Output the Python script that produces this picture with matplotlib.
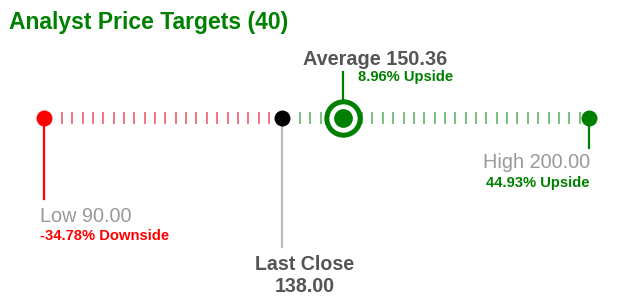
import numpy as np
import matplotlib
matplotlib.use("Agg")
import matplotlib.pyplot as plt

plt.rcParams['font.family'] = ['Liberation Sans', 'DejaVu Sans']

# price targets
n_analysts = 40
low = 90.00
last_close = 138.00
average = 150.36
high = 200.00

low_pct = (low / last_close - 1) * 100      # -34.78
avg_pct = (average / last_close - 1) * 100   # 8.96
high_pct = (high / last_close - 1) * 100     # 44.93

GREEN = '#008000'
RED = '#ff0000'
GRAY = '#999999'
DARK = '#555555'

W, H = 620, 297
# x axis in price units, y axis in pixels (top = 0)
x_per_px = 1 / 4.9545
xmin = low - 44 * x_per_px
xmax = xmin + W * x_per_px


def px(x):
    return xmin + x * x_per_px


fig = plt.figure(figsize=(W / 100, H / 100), dpi=100)
ax = fig.add_axes([0, 0, 1, 1])
ax.set_xlim(xmin, xmax)
ax.set_ylim(H, 0)
ax.axis('off')

y0 = 118

# dashed scale
ticks = np.arange(93.6, high - 1, 2.09)
for t in ticks:
    if abs(t - last_close) < 2.0:
        continue
    c = '#e8404f' if t < last_close else '#4aa84a'
    ax.plot([t, t], [112, 124], color=c, lw=1.2, alpha=0.85, zorder=1,
            solid_capstyle='butt')

# stems
ax.plot([low, low], [y0, 199], color=RED, lw=1.6, zorder=2)
ax.plot([last_close, last_close], [y0, 247], color='#bbbbbb', lw=1.6, zorder=2)
ax.plot([high, high], [y0, 148], color=GREEN, lw=1.6, zorder=2)
ax.plot([average, average], [72, 100], color=GREEN, lw=1.6, zorder=2)

# dots
ax.plot([low], [y0], 'o', ms=11.5, color=RED, mec='none', zorder=3)
ax.plot([last_close], [y0], 'o', ms=11.5, color='black', mec='none', zorder=3)
ax.plot([high], [y0], 'o', ms=11.5, color=GREEN, mec='none', zorder=3)
ax.plot([average], [y0], 'o', ms=24, mfc='white', mec=GREEN, mew=3.6, zorder=3)
ax.plot([average], [y0], 'o', ms=13.5, color=GREEN, mec='none', zorder=4)

# texts
ax.text(px(9), 29, f'Analyst Price Targets ({n_analysts})', color=GREEN,
        fontsize=16.5, fontweight='bold', va='baseline', ha='left')

ax.text(px(303), 65, f'Average {average:.2f}', color=DARK, fontsize=14.3,
        fontweight='bold', va='baseline', ha='left')
ax.text(px(358), 81.5, f'{avg_pct:.2f}% Upside', color=GREEN, fontsize=10.6,
        fontweight='bold', va='baseline', ha='left')

ax.text(px(590), 168, f'High {high:.2f}', color=GRAY, fontsize=14.3,
        va='baseline', ha='right')
ax.text(px(590), 186.5, f'{high_pct:.2f}% Upside', color=GREEN, fontsize=10.6,
        fontweight='bold', va='baseline', ha='right')

ax.text(px(40), 222, f'Low {low:.2f}', color=GRAY, fontsize=14.3,
        va='baseline', ha='left')
ax.text(px(40), 240, f'{low_pct:.2f}% Downside', color=RED, fontsize=10.6,
        fontweight='bold', va='baseline', ha='left')

ax.text(px(305), 270, 'Last Close', color=DARK, fontsize=14.1,
        fontweight='bold', va='baseline', ha='center')
ax.text(px(305), 291.5, f'{last_close:.2f}', color=DARK, fontsize=14.1,
        fontweight='bold', va='baseline', ha='center')

fig.savefig('out.png', dpi=100, facecolor='white')
